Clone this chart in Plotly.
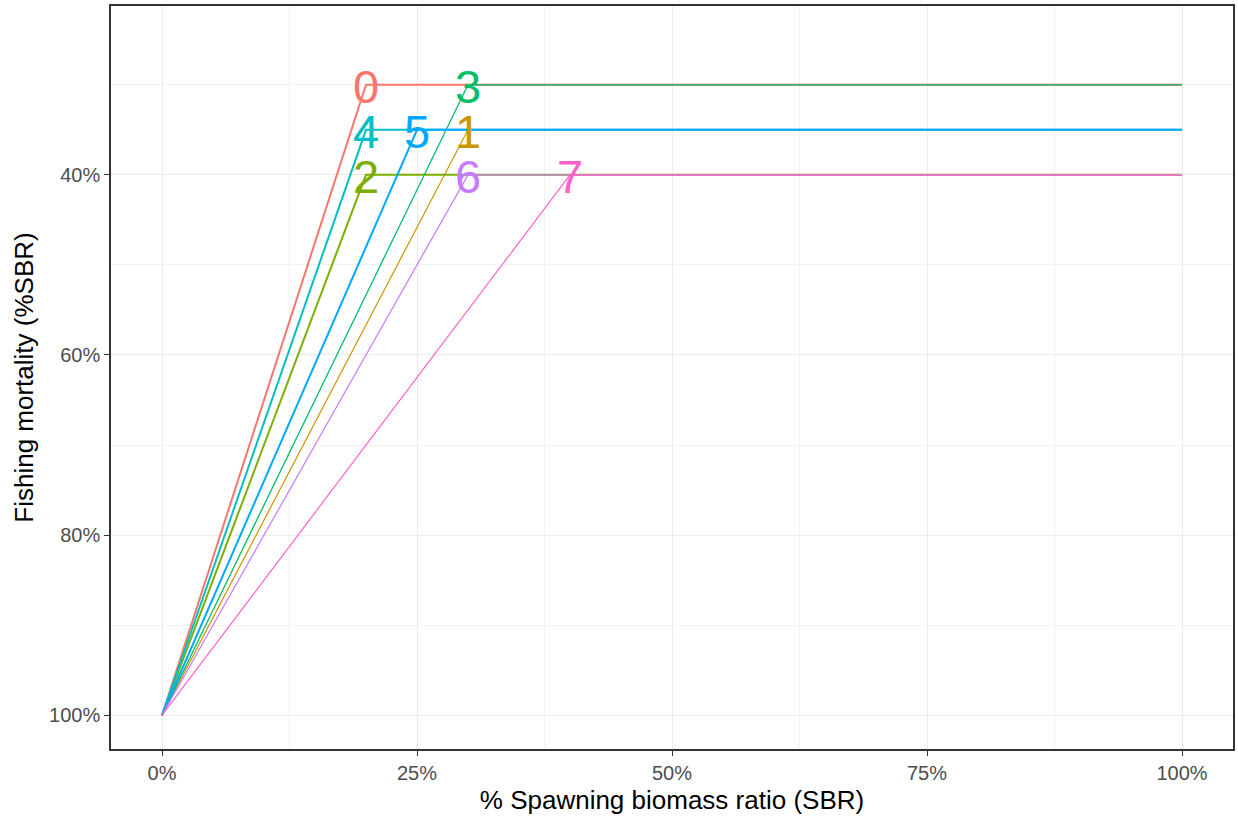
import plotly.graph_objects as go

# Harvest control rules: F ramps from 100% at SBR 0 to a cap reached at a given SBR
rule_ids = ["0", "1", "2", "3", "4", "5", "6", "7"]
sbr_breakpoint = [20, 30, 20, 30, 20, 25, 30, 40]   # % SBR where the ramp ends
f_target = [30, 35, 40, 30, 35, 35, 40, 40]          # %SBR fishing mortality level
sbr_start = 0
sbr_end = 100
f_start = 100

colors = ["#F8766D", "#CD9600", "#7CAE00", "#00BE67",
          "#00BFC4", "#00A9FF", "#C77CFF", "#FF61CC"]
widths = [2.0, 1.2, 2.0, 1.3, 2.0, 2.0, 1.2, 1.2]

x_ticks = [0, 25, 50, 75, 100]
y_ticks = [40, 60, 80, 100]

FONT = "Liberation Sans, Arial"

fig = go.Figure()

for rid, bx, fy, c, w in zip(rule_ids, sbr_breakpoint, f_target, colors, widths):
    fig.add_trace(go.Scatter(
        x=[sbr_start, bx, sbr_end], y=[f_start, fy, fy],
        mode="lines", line=dict(color=c, width=w),
        showlegend=False, hoverinfo="skip"))

# rule number printed at each breakpoint
for rid, bx, fy, c in zip(rule_ids, sbr_breakpoint, f_target, colors):
    fig.add_annotation(
        x=bx, y=fy, text=rid, showarrow=False,
        xanchor="center", yanchor="middle", yshift=-2,
        font=dict(color=c, size=47, family=FONT))

axis_common = dict(
    showgrid=True, gridcolor="#EBEBEB", gridwidth=1.1,
    minor=dict(showgrid=True, gridcolor="#F2F2F2", gridwidth=0.6),
    showline=True, linecolor="#333333", linewidth=1.6, mirror=True,
    ticks="outside", ticklen=5, tickcolor="#333333", tickwidth=1.3,
    tickfont=dict(size=20, color="#4D4D4D", family=FONT),
    zeroline=False,
)

fig.update_xaxes(
    **axis_common,
    range=[-5, 105],
    tickvals=x_ticks, ticktext=[f"{v}%" for v in x_ticks],
    title=dict(text="% Spawning biomass ratio (SBR)",
               font=dict(size=26, color="#000000", family=FONT),
               standoff=8),
)
fig.update_xaxes(minor_tickvals=[12.5, 37.5, 62.5, 87.5], minor_ticks="")
fig.update_yaxes(
    **axis_common,
    range=[103.75, 21.25],
    tickvals=y_ticks, ticktext=[f"{v}%" for v in y_ticks],
    title=dict(text="Fishing mortality (%SBR)",
               font=dict(size=26, color="#000000", family=FONT),
               standoff=8),
)
fig.update_yaxes(minor_tickvals=[30, 50, 70, 90], minor_ticks="")

fig.update_layout(
    width=1238, height=818,
    margin=dict(l=111, r=3, t=6, b=69),
    plot_bgcolor="white", paper_bgcolor="white",
)

fig.write_html("out.html")
